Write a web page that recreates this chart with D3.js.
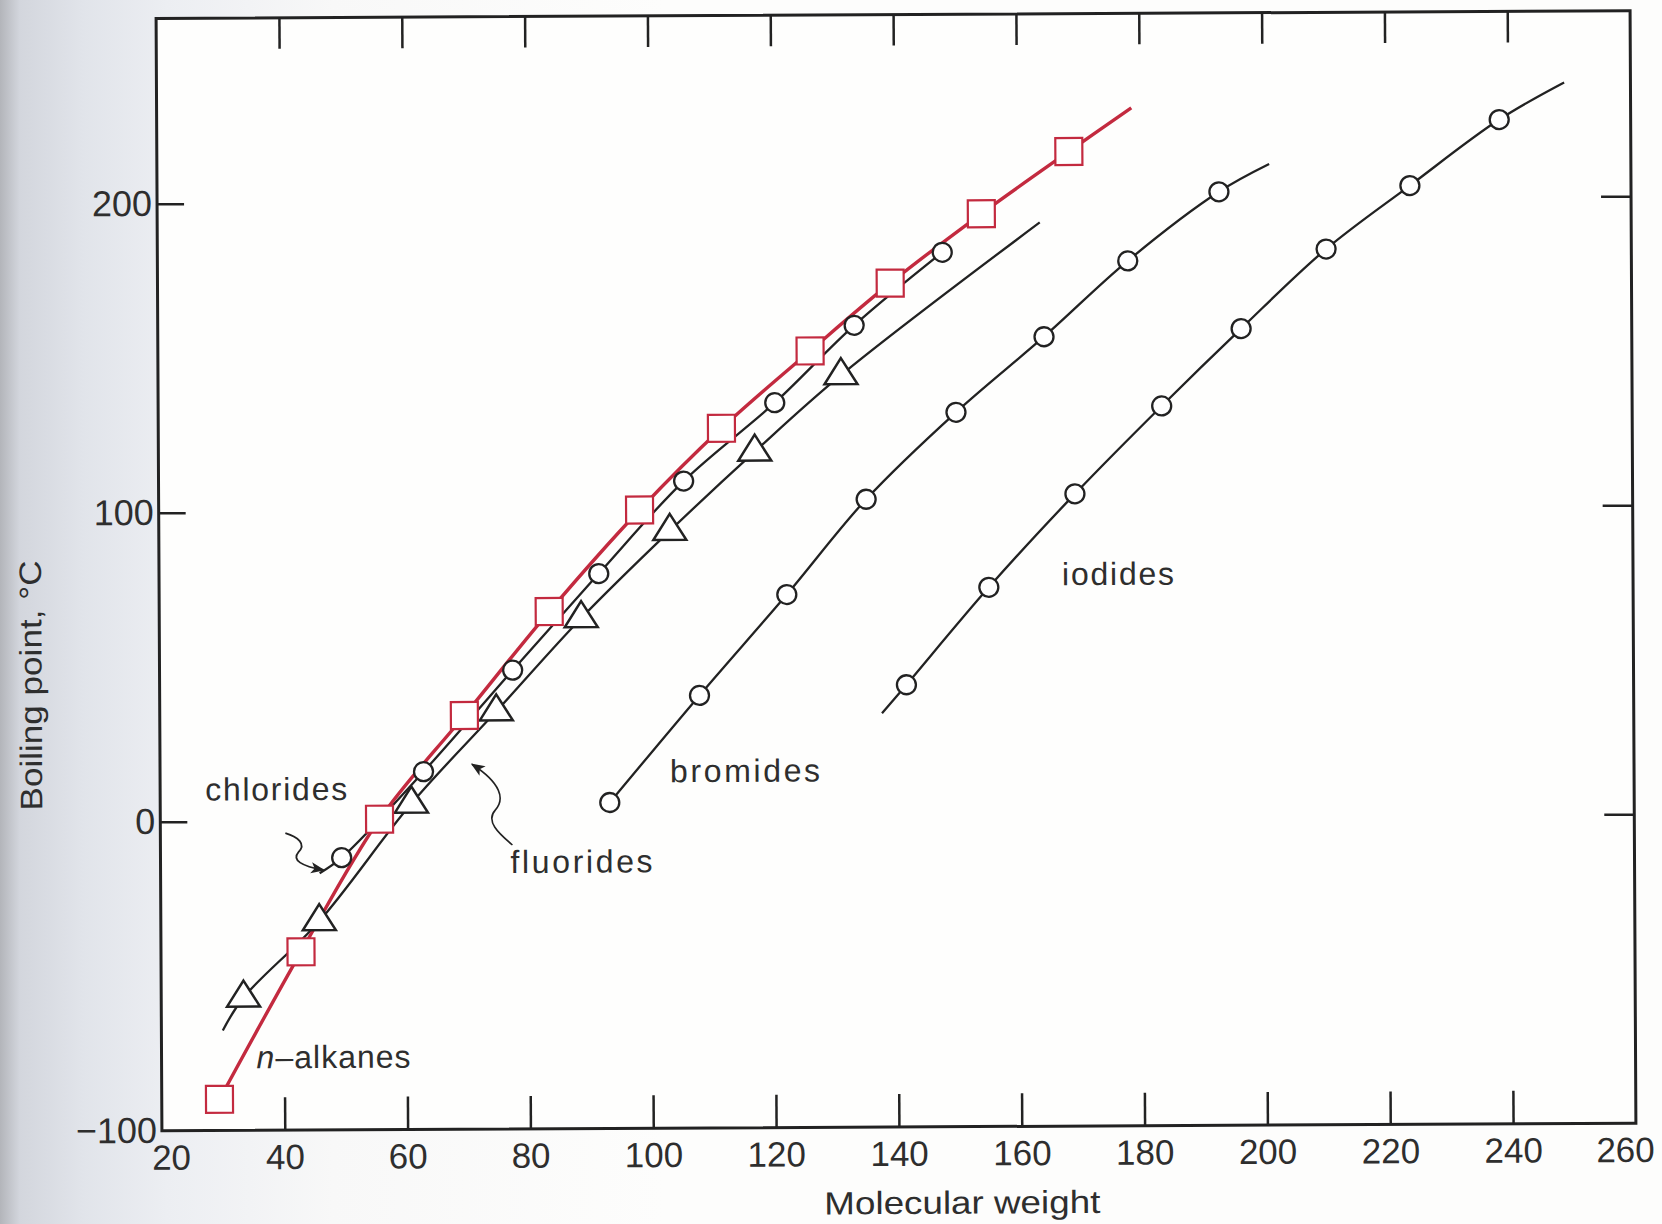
<!DOCTYPE html>
<html>
<head>
<meta charset="utf-8">
<script src="https://cdn.jsdelivr.net/npm/d3@7"></script>
<style>
  html, body { margin: 0; padding: 0; background: #fdfdfc; }
  svg { display: block; }
</style>
</head>
<body>
<div id="vizcontainer"></div>
<script>
// boiling point vs molecular weight
const alkaneMW = [29.4, 42.8, 55.7, 69.6, 83.5, 98.3, 111.7, 126.2, 139.3, 154.2, 168.5],
  alkaneBP = [-89.9, -42.3, 0.5, 33.9, 67.4, 100.1, 126.4, 151.3, 173.1, 195.4, 215.4],
  alkaneEnd = [178.7, 229.4];

const chlorideMW = [49.5, 62.9, 77.5, 91.6, 105.5, 120.4, 133.4, 147.8],
  chlorideBP = [-11.9, 15.8, 48.5, 79.6, 109.4, 134.6, 159.5, 183.0],
  chlorideStart = [45.9, -16.9];

const fluorideMW = [33.4, 45.8, 60.9, 74.8, 88.7, 103.2, 117.1, 131.2],
  fluorideBP = [-57.0, -32.4, 5.5, 35.2, 65.2, 93.3, 118.8, 143.4],
  fluorideStart = [30.0, -67.6],
  fluorideEnd = [163.7, 192.5];

const bromideMW = [93.2, 107.9, 122.2, 135.2, 149.9, 164.3, 178.0, 192.9],
  bromideBP = [5.5, 40.0, 72.5, 103.2, 131.2, 155.5, 179.9, 202.1],
  bromideEnd = [201.1, 211.0];

const iodideMW = [141.6, 155.1, 169.2, 183.4, 196.4, 210.3, 224.0, 238.6],
  iodideBP = [43.1, 74.5, 104.6, 132.9, 157.8, 183.4, 203.8, 225.0],
  iodideStart = [137.6, 33.9],
  iodideEnd = [249.2, 236.9];

const xTicks = [20, 40, 60, 80, 100, 120, 140, 160, 180, 200, 220, 240, 260],
  xInnerTicks = [40, 60, 80, 100, 120, 140, 160, 180, 200, 220, 240],
  yTicks = [-100, 0, 100, 200],
  yInnerTicks = [0, 100, 200];

const
  width = 1662,
  height = 1224,
  ink = '#222222',
  textInk = '#2e2e2e',
  red = '#c32a3f',
  font = '"Liberation Sans", Arial, sans-serif'
  ;

const svg = d3.select('#vizcontainer')
  .append('svg')
  .attr('width', width)
  .attr('height', height);

// paper tone, greyer toward the binding on the left
const grad = svg.append('defs').append('linearGradient')
  .attr('id', 'paper').attr('x1', 0).attr('x2', 1).attr('y1', 0).attr('y2', 0);
[[0, '#b3b5ba'], [0.012, '#d3d6dd'], [0.05, '#e1e4ea'], [0.1, '#eceef2'], [0.2, '#f8f8f8'], [0.4, '#fdfdfc'], [1, '#fdfdfc']]
  .forEach(s => grad.append('stop').attr('offset', s[0]).attr('stop-color', s[1]));

const marker = svg.select('defs').append('marker')
  .attr('id', 'arrow')
  .attr('viewBox', '0 0 10 10')
  .attr('refX', 9).attr('refY', 5)
  .attr('markerWidth', 14).attr('markerHeight', 14)
  .attr('markerUnits', 'userSpaceOnUse')
  .attr('orient', 'auto');
marker.append('path').attr('d', 'M0,1 L10,5 L0,9 L2.5,5 Z').attr('fill', ink);

svg.append('rect').attr('width', width).attr('height', height).attr('fill', 'url(#paper)');

// the scan is slightly turned
const viz = svg.append('g').attr('transform', 'rotate(-0.3, 896, 571)');

const x = d3.scaleLinear()
  .domain([20, 260])
  .range([159, 1633]);

const y = d3.scaleLinear()
  .domain([-100, 260])
  .range([1127, 14.6]);

// frame
viz.append('rect')
  .attr('x', x(20)).attr('y', y(260))
  .attr('width', x(260) - x(20)).attr('height', y(-100) - y(260))
  .attr('fill', '#fefefd')
  .attr('stroke', ink).attr('stroke-width', 3);

// axes with inward ticks
const xAxis = viz.append('g')
  .attr('transform', `translate(0,${y(-100)})`)
  .call(d3.axisBottom(x).tickValues(xTicks).tickSizeInner(-33).tickSizeOuter(0).tickPadding(14));

const yAxis = viz.append('g')
  .attr('transform', `translate(${x(20)},0)`)
  .call(d3.axisLeft(y).tickValues(yTicks).tickSizeInner(-27).tickSizeOuter(0).tickPadding(5));

viz.append('g')
  .attr('transform', `translate(0,${y(260)})`)
  .call(d3.axisTop(x).tickValues(xInnerTicks).tickSizeInner(-31).tickSizeOuter(0).tickFormat(''));

viz.append('g')
  .attr('transform', `translate(${x(260)},0)`)
  .call(d3.axisRight(y).tickValues(yInnerTicks).tickSizeInner(-30).tickSizeOuter(0).tickFormat(''));

viz.selectAll('.domain').remove();
viz.selectAll('.tick line').attr('stroke', ink).attr('stroke-width', 2.5);
viz.selectAll('.tick text')
  .attr('fill', textInk)
  .attr('font-family', font)
  .attr('font-size', 35);
yAxis.selectAll('.tick text').attr('font-size', 36);

// end labels sit a little inside the corners
xAxis.selectAll('.tick text').attr('dx', d => d === 20 ? 9 : d === 260 ? -11 : 0);
yAxis.selectAll('.tick').filter(d => d === -100).select('line').remove();
xAxis.selectAll('.tick').filter(d => d === 20 || d === 260).select('line').remove();

// axis titles
viz.append('text')
  .attr('x', 959).attr('y', 1214)
  .attr('text-anchor', 'middle')
  .attr('font-family', font).attr('font-size', 32)
  .attr('fill', textInk)
  .attr('textLength', 276).attr('lengthAdjust', 'spacingAndGlyphs')
  .text('Molecular weight');

viz.append('text')
  .attr('transform', 'translate(41,681) rotate(-90)')
  .attr('text-anchor', 'middle')
  .attr('font-family', font).attr('font-size', 31)
  .attr('fill', textInk)
  .attr('textLength', 250).attr('lengthAdjust', 'spacingAndGlyphs')
  .text('Boiling point, °C');

// curves
const line = d3.line()
  .x(d => x(d[0]))
  .y(d => y(d[1]))
  .curve(d3.curveCatmullRom.alpha(0.5));

const alkanes = d3.zip(alkaneMW, alkaneBP),
  chlorides = d3.zip(chlorideMW, chlorideBP),
  fluorides = d3.zip(fluorideMW, fluorideBP),
  bromides = d3.zip(bromideMW, bromideBP),
  iodides = d3.zip(iodideMW, iodideBP);

const blackCurves = [
  [chlorideStart, ...chlorides],
  [fluorideStart, ...fluorides, fluorideEnd],
  [...bromides, bromideEnd],
  [iodideStart, ...iodides, iodideEnd]
];

viz.append('g').selectAll('path')
  .data(blackCurves)
  .join('path')
  .attr('d', line)
  .attr('fill', 'none')
  .attr('stroke', ink)
  .attr('stroke-width', 2.3);

viz.append('path')
  .datum([...alkanes, alkaneEnd])
  .attr('d', line)
  .attr('fill', 'none')
  .attr('stroke', red)
  .attr('stroke-width', 3.4);

// markers
const circlePts = [...chlorides, ...bromides, ...iodides];
viz.append('g').selectAll('circle')
  .data(circlePts)
  .join('circle')
  .attr('cx', d => x(d[0]))
  .attr('cy', d => y(d[1]))
  .attr('r', 9.5)
  .attr('fill', '#fff')
  .attr('stroke', ink)
  .attr('stroke-width', 2.3);

viz.append('g').selectAll('path')
  .data(fluorides)
  .join('path')
  .attr('transform', d => `translate(${x(d[0])},${y(d[1])})`)
  .attr('d', 'M0,-17 L16.5,9 L-16.5,9 Z')
  .attr('fill', '#fff')
  .attr('stroke', ink)
  .attr('stroke-width', 2.5)
  .attr('stroke-linejoin', 'miter');

viz.append('g').selectAll('rect')
  .data(alkanes)
  .join('rect')
  .attr('x', d => x(d[0]) - 13.5)
  .attr('y', d => y(d[1]) - 13.5)
  .attr('width', 27)
  .attr('height', 27)
  .attr('fill', '#fff')
  .attr('stroke', red)
  .attr('stroke-width', 2.2);

// labels on the curves
const labels = [
  { t: 'chlorides', x: 204, y: 797, w: 142 },
  { t: 'fluorides', x: 509, y: 871, w: 142 },
  { t: 'bromides', x: 669, y: 781, w: 150 },
  { t: 'iodides', x: 1062, y: 586, w: 112 }
];
viz.append('g').selectAll('text')
  .data(labels)
  .join('text')
  .attr('x', d => d.x).attr('y', d => d.y)
  .attr('font-family', font).attr('font-size', 32)
  .attr('fill', textInk)
  .attr('textLength', d => d.w).attr('lengthAdjust', 'spacing')
  .text(d => d.t);

const nAlk = viz.append('text')
  .attr('x', 254).attr('y', 1065)
  .attr('font-family', font).attr('font-size', 32)
  .attr('fill', textInk)
  .attr('textLength', 154).attr('lengthAdjust', 'spacing');
nAlk.append('tspan').attr('font-style', 'italic').text('n');
nAlk.append('tspan').text('–alkanes');

// wavy leaders
viz.append('path')
  .attr('d', 'M284,830 C297,834 305,841 297,849 C290,857 300,863 322,867')
  .attr('fill', 'none').attr('stroke', ink).attr('stroke-width', 1.8)
  .attr('marker-end', 'url(#arrow)');

viz.append('path')
  .attr('d', 'M511,843 C497,831 484,819 494,808 C504,797 500,781 471,762')
  .attr('fill', 'none').attr('stroke', ink).attr('stroke-width', 1.6)
  .attr('marker-end', 'url(#arrow)');
</script>
</body>
</html>
